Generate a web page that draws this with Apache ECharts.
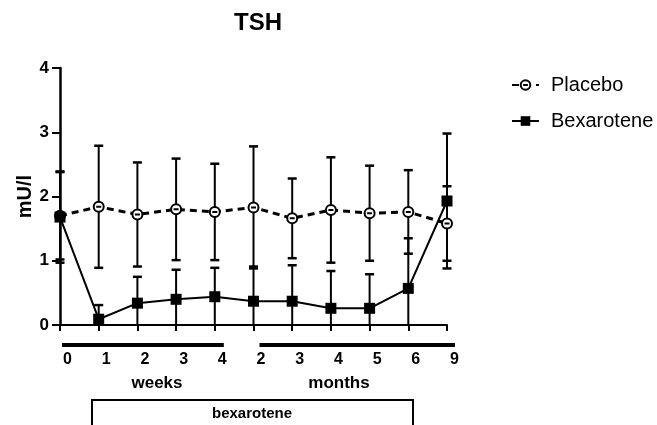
<!DOCTYPE html>
<html>
<head>
<meta charset="utf-8">
<script src="https://cdn.jsdelivr.net/npm/echarts@6/dist/echarts.min.js"></script>
<style>
  html, body { margin: 0; padding: 0; background: #fff; }
  #chart { width: 657px; height: 425px; }
</style>
</head>
<body>
<div id="chart"></div>
<script>
// Visit labels: 0-4 weeks, then 2-9 months
const timeLabels = ['0', '1', '2', '3', '4', '2', '3', '4', '5', '6', '9'];

// TSH (mU/l), mean and SD per visit
const placeboMean = [1.70, 1.84, 1.72, 1.80, 1.76, 1.83, 1.66, 1.79, 1.74, 1.76, 1.58];
const placeboSD   = [0.68, 0.95, 0.81, 0.79, 0.75, 0.95, 0.62, 0.82, 0.74, 0.65, 0.58];
const bexMean     = [1.68, 0.09, 0.34, 0.40, 0.44, 0.37, 0.37, 0.26, 0.26, 0.57, 1.93];
const bexSD       = [0.71, 0.22, 0.41, 0.46, 0.45, 0.54, 0.56, 0.58, 0.53, 0.78, 1.05];

const yTicks = [0, 1, 2, 3, 4];

const FONT = 'Liberation Sans, Arial, Helvetica, sans-serif';

// open circle with a bar through the middle
const circleBar = 'path://M0,10A10,10 0 1 1 20,10A10,10 0 1 1 0,10Z M5,10L15,10';

function errorBars(name, mean, sd) {
  return {
    type: 'custom',
    name: name,
    silent: true,
    z: 1,
    data: mean.map((m, i) => [i, m, sd[i]]),
    encode: { x: 0, y: 1 },
    renderItem: function (params, api) {
      const i = api.value(0), m = api.value(1), s = api.value(2);
      const hi = m + s, lo = m - s;
      const top = api.coord([i, hi]);
      const bot = api.coord([i, Math.max(lo, 0)]);
      const hw = 4.5;
      const st = { stroke: '#000', lineWidth: 2 };
      const cap = { stroke: '#000', lineWidth: 2.5 };
      const children = [
        { type: 'line', shape: { x1: top[0], y1: top[1], x2: bot[0], y2: bot[1] }, style: st },
        { type: 'line', shape: { x1: top[0] - hw, y1: top[1], x2: top[0] + hw, y2: top[1] }, style: cap }
      ];
      if (lo >= 0) {
        children.push({ type: 'line', shape: { x1: bot[0] - hw, y1: bot[1], x2: bot[0] + hw, y2: bot[1] }, style: cap });
      }
      return { type: 'group', children: children };
    }
  };
}

const chart = echarts.init(document.getElementById('chart'), null, { renderer: 'canvas' });

const option = {
  animation: false,
  backgroundColor: '#fff',
  textStyle: { fontFamily: FONT, color: '#000' },
  title: {
    text: 'TSH',
    left: 253,
    top: 6,
    textAlign: 'center',
    textStyle: { fontFamily: FONT, fontWeight: 'bold', fontSize: 24, color: '#000' }
  },
  legend: {
    orient: 'vertical',
    left: 506,
    top: 70,
    itemWidth: 27,
    itemHeight: 12,
    itemGap: 16,
    data: ['Placebo', 'Bexarotene'],
    textStyle: { fontFamily: FONT, fontSize: 20, color: '#000', padding: [0, 0, 0, 7] }
  },
  grid: { left: 60, right: 210, top: 68, bottom: 100, containLabel: false },
  xAxis: {
    type: 'category',
    data: timeLabels,
    boundaryGap: false,
    axisLine: { lineStyle: { color: '#000', width: 2 } },
    axisTick: { show: true, length: 6, lineStyle: { color: '#000', width: 2 } },
    axisLabel: {
      margin: 27,
      fontFamily: FONT, fontWeight: 'bold', fontSize: 16, color: '#000',
      padding: [0, 0, 0, 15]
    },
    splitLine: { show: false }
  },
  yAxis: {
    type: 'value',
    min: yTicks[0],
    max: yTicks[yTicks.length - 1],
    interval: 1,
    name: 'mU/l',
    nameLocation: 'middle',
    nameGap: 25,
    nameMoveOverlap: false,
    nameTextStyle: { fontFamily: FONT, fontWeight: 'bold', fontSize: 20, color: '#000' },
    axisLine: { show: true, lineStyle: { color: '#000', width: 2.5 } },
    axisTick: { show: true, length: 8, lineStyle: { color: '#000', width: 2 } },
    axisLabel: { margin: 11, fontFamily: FONT, fontWeight: 'bold', fontSize: 17, color: '#000' },
    splitLine: { show: false }
  },
  series: [
    errorBars('Bexarotene SD', bexMean, bexSD),
    errorBars('Placebo SD', placeboMean, placeboSD),
    {
      name: 'Placebo',
      type: 'line',
      z: 3,
      data: placeboMean,
      symbol: circleBar,
      symbolSize: 10,
      itemStyle: { color: '#fff', borderColor: '#000', borderWidth: 2 },
      lineStyle: { color: '#000', width: 3, type: [7, 5] }
    },
    {
      name: 'Bexarotene',
      type: 'line',
      z: 4,
      data: bexMean,
      symbol: 'rect',
      symbolSize: 11,
      itemStyle: { color: '#000' },
      lineStyle: { color: '#000', width: 2 }
    }
  ]
};

chart.setOption(option);

// Axis-break bars, period captions and the treatment box below the axis
function px(i) { return chart.convertToPixel({ xAxisIndex: 0 }, i); }
const barY = 345;
chart.setOption({
  graphic: [
    { type: 'line', shape: { x1: px(0) + 2, y1: barY, x2: px(4) + 9, y2: barY }, style: { stroke: '#000', lineWidth: 4 } },
    { type: 'line', shape: { x1: px(5) + 6, y1: barY, x2: px(10) + 8, y2: barY }, style: { stroke: '#000', lineWidth: 4 } },
    { type: 'text', x: 157, y: 383, style: { text: 'weeks', font: 'bold 17px ' + FONT, fill: '#000', align: 'center', verticalAlign: 'middle' } },
    { type: 'text', x: 339, y: 383, style: { text: 'months', font: 'bold 17px ' + FONT, fill: '#000', align: 'center', verticalAlign: 'middle' } },
    { type: 'rect', shape: { x: 92, y: 400, width: 321, height: 40 }, style: { fill: 'none', stroke: '#000', lineWidth: 2 } },
    { type: 'text', x: 252, y: 414, style: { text: 'bexarotene', font: 'bold 15px ' + FONT, fill: '#000', align: 'center', verticalAlign: 'middle' } }
  ]
});
</script>
</body>
</html>
